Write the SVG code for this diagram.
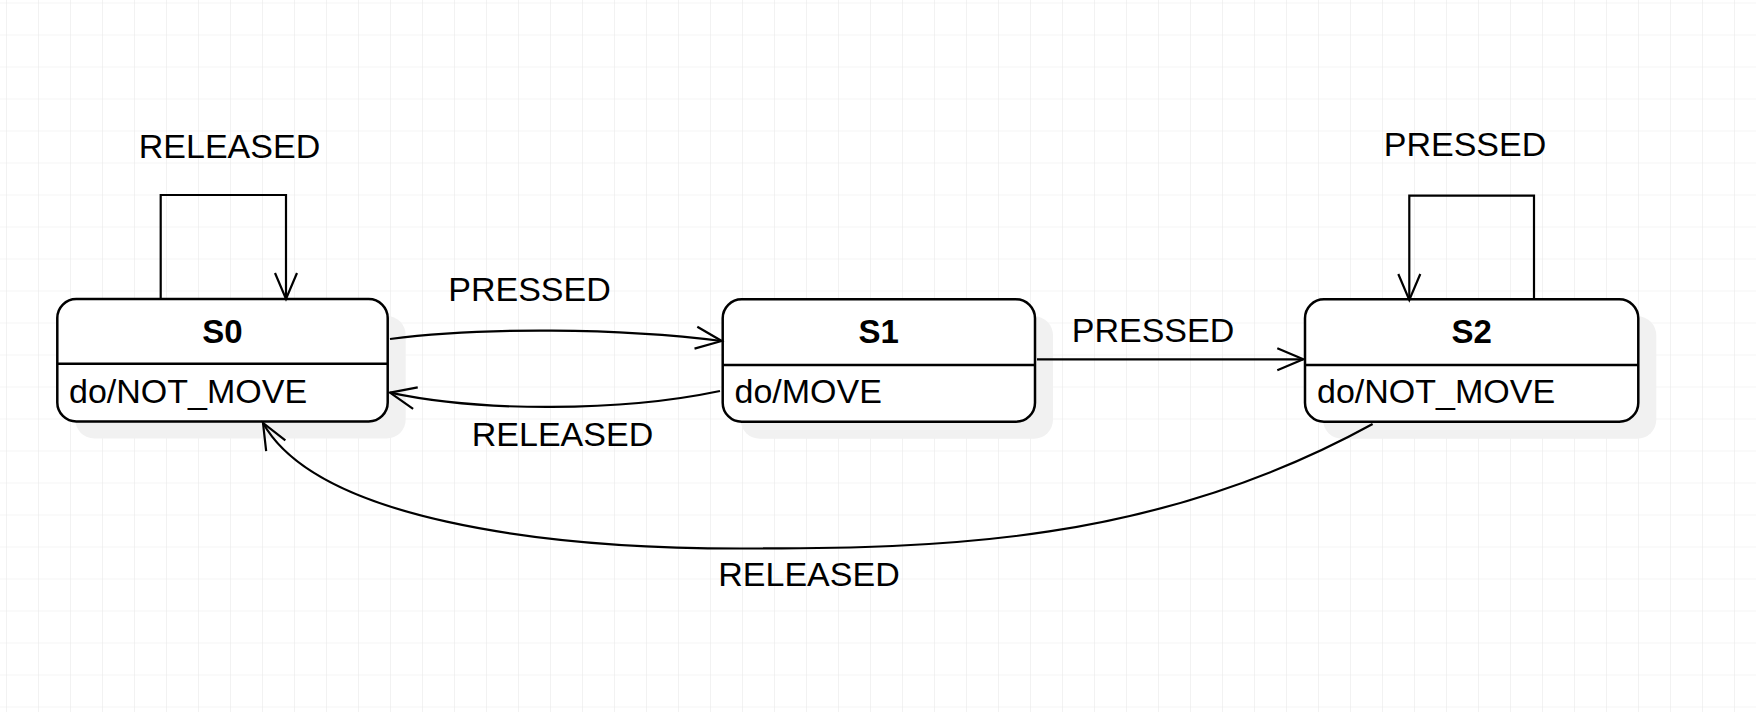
<svg xmlns="http://www.w3.org/2000/svg" width="1756" height="712" viewBox="0 0 1756 712">
  <defs>
    <pattern id="grid" x="6" y="2.5" width="32" height="32" patternUnits="userSpaceOnUse">
      <path d="M0,0 L32,0 M0,0 L0,32" fill="none" stroke="#e9e9e9" stroke-width="1.2"/>
    </pattern>
    <marker id="arr" markerWidth="30" markerHeight="26" refX="27" refY="11" orient="auto" markerUnits="userSpaceOnUse" overflow="visible">
      <path d="M1,0 L27,11 L1,22" fill="none" stroke="#000" stroke-width="2.2"/>
    </marker>
  </defs>
  <style>
    .shadow { fill: #f1f1f1; stroke: none; }
    .box { fill: #ffffff; stroke: #000; stroke-width: 2.5; }
    .div { stroke: #000; stroke-width: 2.5; }
    .edge { fill: none; stroke: #000; stroke-width: 2.2; }
    .title { font-family: "Liberation Sans", Arial, sans-serif; font-weight: bold; font-size: 33px; text-anchor: middle; fill: #000; }
    .body { font-family: "Liberation Sans", Arial, sans-serif; font-size: 34px; fill: #000; }
    .lbl { font-family: "Liberation Sans", Arial, sans-serif; font-size: 34px; text-anchor: middle; fill: #000; }
  </style>
  <rect x="0" y="0" width="1756" height="712" fill="#ffffff"/>
  <rect x="0" y="0" width="1756" height="712" fill="url(#grid)"/>

  <g id="S0">
    <rect class="shadow" x="75.3" y="316" width="330.4" height="122.5" rx="19"/>
    <rect class="box" x="57.3" y="299" width="330.4" height="122.5" rx="19"/>
    <line class="div" x1="57.3" y1="363.7" x2="387.7" y2="363.7"/>
    <text class="title" x="222.5" y="343">S0</text>
    <text class="body" x="69" y="402.5">do/NOT_MOVE</text>
  </g>
  <g id="S1">
    <rect class="shadow" x="740.7" y="316.3" width="312.3" height="122.4" rx="19"/>
    <rect class="box" x="722.7" y="299.3" width="312.3" height="122.4" rx="19"/>
    <line class="div" x1="722.7" y1="365" x2="1035" y2="365"/>
    <text class="title" x="878.8" y="343.3">S1</text>
    <text class="body" x="734.5" y="402.7">do/MOVE</text>
  </g>
  <g id="S2">
    <rect class="shadow" x="1323" y="316.3" width="333.3" height="122.4" rx="19"/>
    <rect class="box" x="1305" y="299.3" width="333.3" height="122.4" rx="19"/>
    <line class="div" x1="1305" y1="365" x2="1638.3" y2="365"/>
    <text class="title" x="1471.7" y="343.3">S2</text>
    <text class="body" x="1317" y="402.7">do/NOT_MOVE</text>
  </g>

  <g id="connectors">
    <path class="edge" d="M160.7,299 L160.7,195 L286,195 L286,299" marker-end="url(#arr)"/>
    <path class="edge" d="M390,339 C480,327 620,328 721.7,341" marker-end="url(#arr)"/>
    <path class="edge" d="M720,391 C620,412 480,412 390,392.7" marker-end="url(#arr)"/>
    <path class="edge" d="M1037,359.3 L1303.3,359.3" marker-end="url(#arr)"/>
    <path class="edge" d="M1534,299 L1534,195.7 L1409.3,195.7 L1409.3,300" marker-end="url(#arr)"/>
    <path class="edge" d="M1372.6,424 C1153.6,544.5 940,548.5 740,548.5 C540,548.5 316.9,518.7 263,423" marker-end="url(#arr)"/>
    <text class="lbl" x="229.5" y="157.7">RELEASED</text>
    <text class="lbl" x="529.5" y="300.7">PRESSED</text>
    <text class="lbl" x="562.5" y="445.7">RELEASED</text>
    <text class="lbl" x="1153" y="342.3">PRESSED</text>
    <text class="lbl" x="1465" y="155.7">PRESSED</text>
    <text class="lbl" x="809" y="586">RELEASED</text>
  </g>
</svg>
